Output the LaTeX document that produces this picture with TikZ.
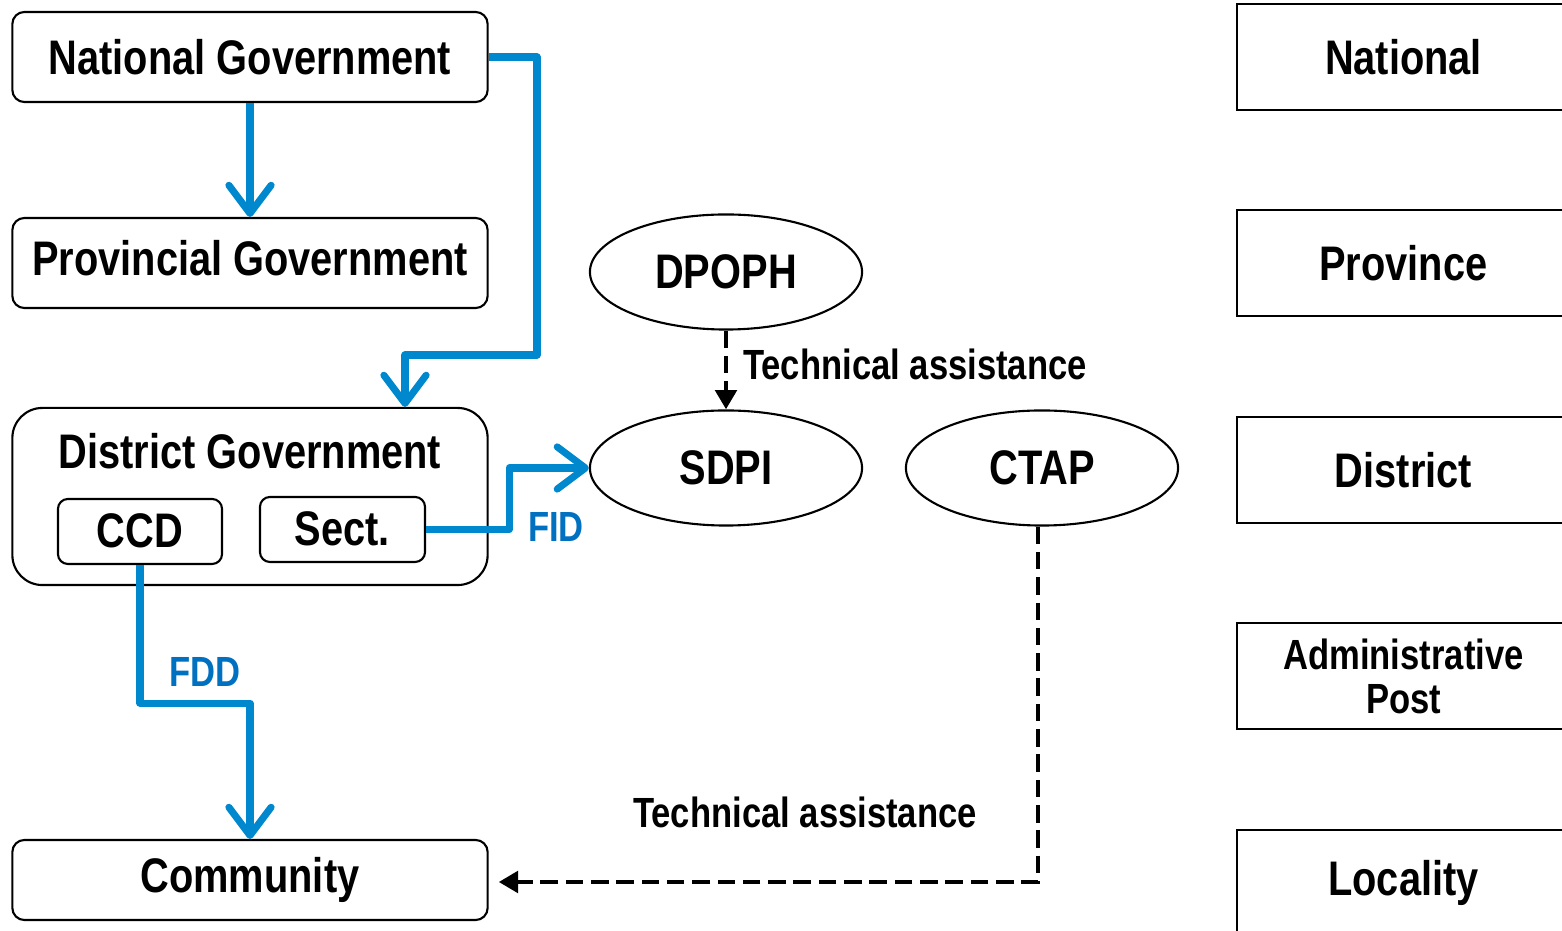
\documentclass[tikz,border=0pt]{standalone}
\usepackage{fontspec}
\setmainfont{Liberation Sans}[FakeStretch=0.82]
\usetikzlibrary{arrows.meta,shapes.geometric}
\definecolor{flowblue}{RGB}{0,136,207}
\definecolor{labelblue}{RGB}{0,112,192}
\tikzset{
  big/.style={font=\bfseries\fontsize{13.8}{15}\selectfont},
  small/.style={font=\bfseries\fontsize{12}{12.5}\selectfont},
  govbox/.style={draw, line width=0.6pt, rounded corners=0.12cm, minimum width=4.75cm, minimum height=0.9cm, inner sep=0pt, big},
  subbox/.style={draw, line width=0.6pt, rounded corners=0.1cm, minimum width=1.65cm, minimum height=0.65cm, inner sep=0pt, big},
  agency/.style={draw, line width=0.6pt, ellipse, minimum width=2.72cm, minimum height=1.15cm, inner sep=0pt, big},
  levelbox/.style={draw, line width=0.6pt, minimum width=3.33cm, minimum height=1.06cm, inner sep=0pt, big},
  flow/.style={flowblue, line width=2pt, line join=round, -{Straight Barb[length=8pt,width=12pt,round]}},
  assist/.style={line width=1.4pt, dash pattern=on 5pt off 2.2pt, -{Triangle[length=5.5pt,width=6pt]}}
}
\begin{document}
\begin{tikzpicture}[x=0.01cm, y=-0.01cm]
  \useasboundingbox (0,0) rectangle (1562,931);

  \node[govbox] (natgov) at (250,57) {National Government};
  \node[govbox, text depth=0.1cm] (provgov) at (250,263) {Provincial Government};
  \node[govbox, minimum height=1.77cm, rounded corners=0.3cm] (dist) at (250,496.5) {};
  \node[big] (disttitle) at (250,451) {District Government};
  \node[subbox, minimum width=1.64cm, text height=0.32cm] (ccd) at (140,531.5) {CCD};
  \node[subbox, text height=0.32cm] (sect) at (342.5,529.5) {Sect.};
  \node[govbox, minimum height=0.8cm] (comm) at (250,880) {Community};

  \node[agency] (dpoph) at (726,272) {DPOPH};
  \node[agency] (sdpi) at (726,468) {SDPI};
  \node[agency] (ctap) at (1042,468) {CTAP};

  \node[levelbox] (lnat) at (1403.5,57) {National};
  \node[levelbox] (lprov) at (1403.5,263) {Province};
  \node[levelbox] (ldist) at (1403.5,470) {District};
  \node[levelbox, small, align=center] (lpost) at (1403.5,676) {Administrative\\Post};
  \node[levelbox] (lloc) at (1403.5,883) {Locality};

  \coordinate (bend) at (405,355);
  \draw[flow] (natgov.south) -- (provgov.north);
  \draw[flow] (natgov.east) -- (537,57) |- (bend) -- (bend |- dist.north);
  \draw[flow] (sect.east) -- ++(83,0) |- (sdpi.west);
  \draw[flow] (ccd.south) -- ++(0,138) -| (comm.north);

  \draw[assist] (dpoph.south) -- (sdpi.north);
  \draw[assist] ([xshift=-0.04cm]ctap.south) |- ([xshift=0.1cm, yshift=-0.02cm]comm.east);

  \node[small, labelblue] (fid) at (556,527) {FID};
  \node[small, labelblue] (fdd) at (205,672) {FDD};
  \node[small] (ta1) at (915,364) {Technical assistance};
  \node[small] (ta2) at (805,812) {Technical assistance};
\end{tikzpicture}
\end{document}
